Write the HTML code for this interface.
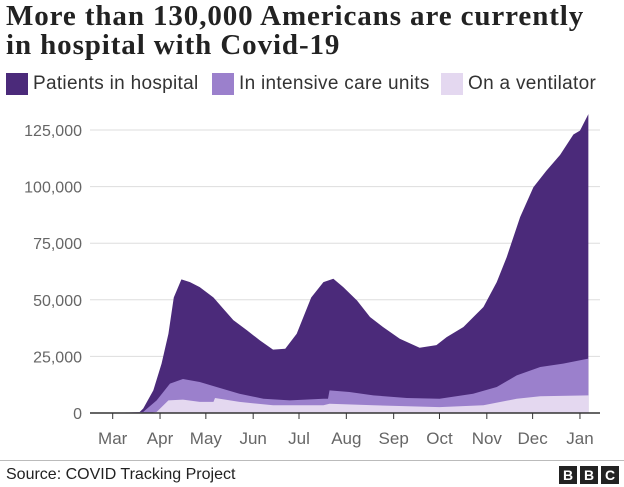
<!DOCTYPE html>
<html><head><meta charset="utf-8"><style>
body{margin:0;width:624px;height:487px;background:#fff;overflow:hidden;font-family:"Liberation Sans",sans-serif;}
#title{position:absolute;left:6px;top:2px;font-family:"Liberation Serif",serif;font-weight:bold;font-size:29px;letter-spacing:0.9px;line-height:29px;color:#222;margin:0;}
.leg{position:absolute;top:73px;height:22px;font-size:19px;letter-spacing:0.3px;color:#333;display:flex;align-items:center;}
.sw{width:22px;height:22px;display:inline-block;margin-right:5px;}
#src{position:absolute;left:6px;top:466px;font-size:16px;color:#222;}
#rule{position:absolute;left:0;top:460px;width:624px;height:1px;background:#bbb;}
.bbc{position:absolute;top:466px;width:18px;height:18px;background:#222;color:#fff;font-weight:bold;font-size:14px;text-align:center;line-height:18px;}
</style></head><body>
<h1 id="title">More than 130,000 Americans are currently<br>in hospital with Covid-19</h1>
<div class="leg" style="left:6px"><span class="sw" style="background:#4b2a7a"></span>Patients in hospital</div>
<div class="leg" style="left:212px"><span class="sw" style="background:#9b80cc"></span>In intensive care units</div>
<div class="leg" style="left:441px"><span class="sw" style="background:#e4d8f0"></span>On a ventilator</div>
<svg id="chart" width="624" height="487" style="position:absolute;left:0;top:0"></svg>
<div id="rule"></div>
<div id="src">Source: COVID Tracking Project</div>
<div class="bbc" style="left:559px">B</div>
<div class="bbc" style="left:580px">B</div>
<div class="bbc" style="left:601px">C</div>
<script>
const totalDays=[0,17,20,26.6,32,36.5,40,45,50.6,57,66,72.5,79,88,96.5,105,113,120.5,130,138,144.5,151,160,168.5,177,188,201,212,218.7,229.7,242.8,251.5,258,266.8,275.5,284,293,301.7,306,311.5];
const totalVals=[0,0,2000,10000,21800,35000,51000,59000,57800,55600,51000,46000,41000,36500,32000,28000,28400,35000,51000,57800,59300,55600,49700,42400,38000,32800,28800,30000,33500,38000,46800,57800,68800,86500,99700,107000,114000,123000,124700,132000];
const icuDays=[0,20,28.8,37.5,46,57,68,83,98.7,116,138,141,142,155,170.7,192.6,214,236,251.5,264.6,280,295,311.5];
const icuVals=[0,500,5600,13000,15000,13700,11500,8500,6300,5600,6300,6300,10000,9300,7800,6600,6300,8500,11500,16600,20300,21800,24000];
const ventDays=[0,24,28.8,36.5,46,57,66,67,83,105,138,142,170.7,214,242.8,264.6,280,311.5];
const ventVals=[0,0,500,5600,5900,4900,4900,6600,4900,3400,3400,4100,3400,2600,3400,6300,7400,7800];
const yTicks=[0,25000,50000,75000,100000,125000];
const yLabels=["0","25,000","50,000","75,000","100,000","125,000"];
const monthDays=[0,31,61,92,122,153,184,214,245,275,306];
const monthLabels=["Mar","Apr","May","Jun","Jul","Aug","Sep","Oct","Nov","Dec","Jan"];
const NS="http://www.w3.org/2000/svg";
const svg=document.getElementById('chart');
const x=d=>112.7+d*1.527;
const y=v=>413-v*56.6/25000;
function mk(t,a){const e=document.createElementNS(NS,t);for(const k in a)e.setAttribute(k,a[k]);svg.appendChild(e);return e;}
yTicks.forEach((t,i)=>{
  if(i>0){const g=mk('line',{x1:90,x2:600,y1:y(t),y2:y(t),stroke:'#ddd','stroke-width':1});
  
  }
  const l=mk('text',{x:82,y:y(t)+6,'text-anchor':'end','font-size':16,fill:'#666','font-family':'Liberation Sans, sans-serif'});
  l.textContent=yLabels[i];
  
  
});
function area(days,vals,color,name){
  let d='M'+x(days[0])+','+y(0);
  days.forEach((dd,i)=>{d+=' L'+x(dd)+','+y(vals[i]);});
  d+=' L'+x(days[days.length-1])+','+y(0)+' Z';
  const p=mk('path',{d:d,fill:color});
  
  
}
area(totalDays,totalVals,'#4b2a7a','area-patients');
area(icuDays,icuVals,'#9b80cc','area-icu');
area(ventDays,ventVals,'#e4d8f0','area-ventilator');
const ax=mk('line',{x1:90,x2:600,y1:413,y2:413,stroke:'#333','stroke-width':1.5});


monthDays.forEach((m,i)=>{
  const t=mk('line',{x1:x(m),x2:x(m),y1:413,y2:419,stroke:'#333','stroke-width':1});
  
  
  const l=mk('text',{x:x(m),y:444,'text-anchor':'middle','font-size':17,fill:'#666','font-family':'Liberation Sans, sans-serif'});
  l.textContent=monthLabels[i];
  
  
});
</script>
</body></html>
